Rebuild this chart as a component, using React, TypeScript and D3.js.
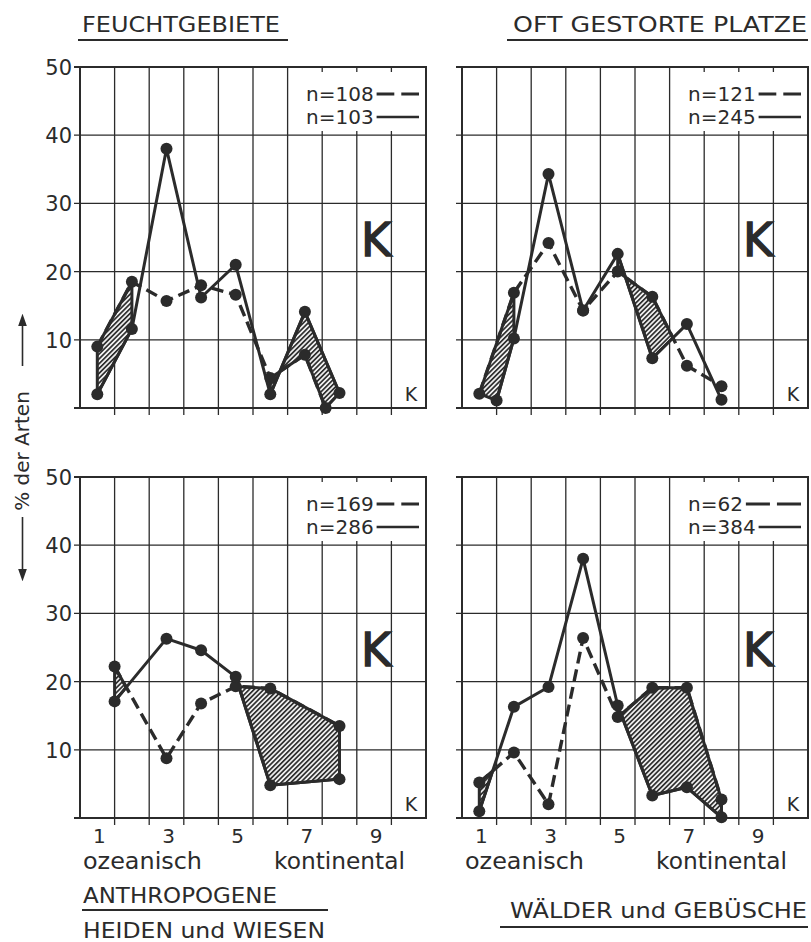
import React from 'react';
import * as d3 from 'd3';

// ---------- data ----------
const kTickLabels = [1, 3, 5, 7, 9];
const yTickValues = [10, 20, 30, 40, 50];
const gridValues = [0, 10, 20, 30, 40, 50];

// FEUCHTGEBIETE
const feuchtDashedK = [1, 2, 3, 4, 5, 6, 7, 7.6];
const feuchtDashedV = [9, 18.5, 15.7, 18, 16.6, 4.4, 7.8, 0];
const feuchtSolidK = [1, 2, 3, 4, 5, 6, 7, 8];
const feuchtSolidV = [2, 11.6, 38, 16.2, 21, 2, 14.1, 2.2];
const feuchtHatch = [[1, 2], [6, 8]];
const feuchtN = ['n=108', 'n=103'];

// OFT GESTORTE PLATZE
const gestoertDashedK = [1, 2, 3, 4, 5, 6, 7, 8];
const gestoertDashedV = [2.1, 16.9, 24.2, 14.3, 20, 16.3, 6.2, 3.2];
const gestoertSolidK = [1.5, 2, 3, 4, 5, 6, 7, 8];
const gestoertSolidV = [1.1, 10.2, 34.3, 14.3, 22.6, 7.3, 12.3, 1.2];
const gestoertHatch = [[1, 2], [5, 6.6]];
const gestoertN = ['n=121', 'n=245'];

// ANTHROPOGENE HEIDEN und WIESEN
const heidenDashedK = [1.5, 3, 4, 5, 6, 8];
const heidenDashedV = [22.2, 8.75, 16.8, 19.3, 19, 13.5];
const heidenSolidK = [1.5, 3, 4, 5, 6, 8];
const heidenSolidV = [17.1, 26.3, 24.6, 20.7, 4.8, 5.7];
const heidenHatch = [[1.5, 1.84], [5, 8]];
const heidenN = ['n=169', 'n=286'];

// WÄLDER und GEBÜSCHE
const waelderDashedK = [1, 2, 3, 4, 5, 6, 7, 8];
const waelderDashedV = [5.2, 9.6, 2.0, 26.4, 14.8, 19.1, 19.1, 2.7];
const waelderSolidK = [1, 2, 3, 4, 5, 6, 7, 8];
const waelderSolidV = [1.0, 16.3, 19.2, 38, 16.5, 3.3, 4.5, 0.1];
const waelderHatch = [[1, 1.385], [5, 8]];
const waelderN = ['n=62', 'n=384'];

// ---------- style ----------
const FONT = "'DejaVu Sans', sans-serif";
const INK = '#2b2b2b';
const W = 346;
const H = 341;

type Pt = [number, number];

function interp(ks: number[], vs: number[], k: number): Pt {
  const n = ks.length;
  if (k <= ks[0]) return [ks[0], vs[0]];
  if (k >= ks[n - 1]) return [ks[n - 1], vs[n - 1]];
  for (let i = 0; i < n - 1; i++) {
    if (k >= ks[i] && k <= ks[i + 1]) {
      const t = (k - ks[i]) / (ks[i + 1] - ks[i]);
      return [k, vs[i] + t * (vs[i + 1] - vs[i])];
    }
  }
  return [ks[n - 1], vs[n - 1]];
}

function segment(ks: number[], vs: number[], a: number, b: number): Pt[] {
  const pts: Pt[] = [interp(ks, vs, a)];
  ks.forEach((k, i) => {
    if (k > a && k < b) pts.push([k, vs[i]]);
  });
  pts.push(interp(ks, vs, b));
  return pts;
}

const charW: Record<string, number> = { n: 0.634, '=': 0.838 };
function textWidth(s: string, size: number) {
  let w = 0;
  for (const c of s) w += (charW[c] ?? 0.636) * size;
  return w;
}

type PanelProps = {
  x0: number;
  y0: number;
  dk: number[];
  dv: number[];
  sk: number[];
  sv: number[];
  hatch: number[][];
  legend: string[];
  yLabels: boolean;
  xLabels: boolean;
};

function Panel({ x0, y0, dk, dv, sk, sv, hatch, legend, yLabels, xLabels }: PanelProps) {
  const x = d3.scaleLinear().domain([0.5, 10.5]).range([x0, x0 + W]);
  const y = d3.scaleLinear().domain([0, 50]).range([y0 + H, y0]);
  const line = d3
    .line<Pt>()
    .x((d) => x(d[0]))
    .y((d) => y(d[1]));
  const dashedPts: Pt[] = dk.map((k, i) => [k, dv[i]]);
  const solidPts: Pt[] = sk.map((k, i) => [k, sv[i]]);
  const colEdges = d3.range(0, 11).map((i) => 0.5 + i);

  const legendX = x0 + 226;
  const legendEnd = x0 + 339;

  return (
    <g>
      {/* grid: vertical */}
      {colEdges.map((e, i) => {
        const border = i === 0 || i === 10;
        return (
          <line
            key={'v' + i}
            x1={x(e)}
            x2={x(e)}
            y1={y0}
            y2={y0 + H + (border ? 0 : 7)}
            stroke={INK}
            strokeWidth={border ? 2 : 1.3}
          />
        );
      })}
      {/* grid: horizontal */}
      {gridValues.map((v) => {
        const border = v === 0 || v === 50;
        return (
          <line
            key={'h' + v}
            x1={x0 - 6}
            x2={x0 + W + (border ? 1 : 0)}
            y1={y(v)}
            y2={y(v)}
            stroke={INK}
            strokeWidth={border ? 2 : 1.3}
          />
        );
      })}
      {/* legend background */}
      <rect x={x0 + 216} y={y0 + 5} width={W - 217} height={59} fill="#ffffff" />
      {/* hatched areas */}
      {hatch.map(([a, b], i) => {
        const poly = [...segment(sk, sv, a, b), ...segment(dk, dv, a, b).reverse()];
        return (
          <path
            key={'hatch' + i}
            d={line(poly) + 'Z'}
            fill="url(#hatch)"
            stroke={INK}
            strokeWidth={3}
            strokeLinejoin="round"
          />
        );
      })}
      {/* lines */}
      <path d={line(dashedPts) || ''} fill="none" stroke={INK} strokeWidth={3.4} strokeDasharray="12 6" />
      <path d={line(solidPts) || ''} fill="none" stroke={INK} strokeWidth={3} strokeLinejoin="round" />
      {/* points */}
      {dashedPts.map((p, i) => (
        <circle key={'dp' + i} cx={x(p[0])} cy={y(p[1])} r={6} fill={INK} />
      ))}
      {solidPts.map((p, i) => (
        <circle key={'sp' + i} cx={x(p[0])} cy={y(p[1])} r={6} fill={INK} />
      ))}
      {/* legend */}
      {legend.map((s, i) => {
        const cy = y0 + 27 + i * 23;
        const tw = textWidth(s, 20);
        const x1 = legendX + tw + 3;
        const len = legendEnd - x1;
        return (
          <g key={'leg' + i}>
            <text x={legendX} y={cy + 7} fontSize={20} fontFamily={FONT} fill={INK}>
              {s}
            </text>
            <line
              x1={x1}
              x2={legendEnd}
              y1={cy}
              y2={cy}
              stroke={INK}
              strokeWidth={i === 0 ? 3 : 2.6}
              strokeDasharray={i === 0 ? `${(len - 7) / 2} 7` : undefined}
            />
          </g>
        );
      })}
      {/* K labels */}
      <text
        x={x0 + 296}
        y={y0 + 189}
        fontSize={46}
        fontFamily={FONT}
        fill={INK}
        stroke={INK}
        strokeWidth={1.4}
        textAnchor="middle"
      >
        K
      </text>
      <text x={x0 + 331} y={y0 + 334} fontSize={19} fontFamily={FONT} fill={INK} textAnchor="middle">
        K
      </text>
      {/* y labels */}
      {yLabels &&
        yTickValues.map((v) => (
          <text
            key={'yl' + v}
            x={x0 - 8}
            y={y(v) + 8}
            fontSize={21}
            fontFamily={FONT}
            fill={INK}
            textAnchor="end"
          >
            {v}
          </text>
        ))}
      {/* x labels */}
      {xLabels &&
        kTickLabels.map((k) => (
          <text
            key={'xl' + k}
            x={x(k) + 2}
            y={y0 + H + 25}
            fontSize={20}
            fontFamily={FONT}
            fill={INK}
            textAnchor="middle"
          >
            {k}
          </text>
        ))}
      {xLabels && (
        <g>
          <text x={x0 + 3} y={y0 + H + 51} fontSize={23} fontFamily={FONT} fill={INK} textLength={119} lengthAdjust="spacingAndGlyphs">
            ozeanisch
          </text>
          <text x={x0 + 194} y={y0 + H + 51} fontSize={23} fontFamily={FONT} fill={INK} textLength={131} lengthAdjust="spacingAndGlyphs">
            kontinental
          </text>
        </g>
      )}
    </g>
  );
}

function Title({ x, y, w, text, ux1, ux2, uy }: { x: number; y: number; w: number; text: string; ux1: number; ux2: number; uy: number }) {
  return (
    <g>
      <text x={x} y={y} fontSize={21} fontFamily={FONT} fill={INK} textLength={w} lengthAdjust="spacingAndGlyphs">
        {text}
      </text>
      {uy > 0 && <line x1={ux1} x2={ux2} y1={uy} y2={uy} stroke={INK} strokeWidth={1.8} />}
    </g>
  );
}

export default function App() {
  return (
    <svg
      width={811}
      height={942}
      viewBox="0 0 811 942"
      style={{ position: 'absolute', left: 0, top: 0, display: 'block', background: '#ffffff' }}
    >
      <defs>
        <pattern id="hatch" patternUnits="userSpaceOnUse" width={3.4} height={3.4} patternTransform="rotate(45)">
          <rect width={3.4} height={3.4} fill="#eeeeee" />
          <line x1={0.8} y1={0} x2={0.8} y2={3.4} stroke="#2b2b2b" strokeWidth={1.7} />
        </pattern>
        <marker id="arrowHead" viewBox="0 0 10 10" refX={5} refY={5} markerWidth={8} markerHeight={10} orient="auto">
          <path d="M0,1.5 L10,5 L0,8.5 Z" fill={INK} />
        </marker>
      </defs>
      <rect x={0} y={0} width={811} height={942} fill="#ffffff" />

      <Title x={82} y={32} w={198} text="FEUCHTGEBIETE" ux1={78} ux2={288} uy={40} />
      <Title x={513} y={32} w={294} text="OFT GESTORTE PLATZE" ux1={507} ux2={808} uy={40} />

      <Panel x0={80} y0={67} dk={feuchtDashedK} dv={feuchtDashedV} sk={feuchtSolidK} sv={feuchtSolidV} hatch={feuchtHatch} legend={feuchtN} yLabels xLabels={false} />
      <Panel x0={462} y0={67} dk={gestoertDashedK} dv={gestoertDashedV} sk={gestoertSolidK} sv={gestoertSolidV} hatch={gestoertHatch} legend={gestoertN} yLabels={false} xLabels={false} />
      <Panel x0={80} y0={477} dk={heidenDashedK} dv={heidenDashedV} sk={heidenSolidK} sv={heidenSolidV} hatch={heidenHatch} legend={heidenN} yLabels xLabels />
      <Panel x0={462} y0={477} dk={waelderDashedK} dv={waelderDashedV} sk={waelderSolidK} sv={waelderSolidV} hatch={waelderHatch} legend={waelderN} yLabels={false} xLabels />

      <Title x={83} y={903} w={194} text="ANTHROPOGENE" ux1={82} ux2={328} uy={910} />
      <Title x={83} y={938} w={242} text="HEIDEN und WIESEN" ux1={0} ux2={0} uy={0} />
      <Title x={510} y={918} w={297} text="WÄLDER und GEBÜSCHE" ux1={500} ux2={808} uy={927} />

      {/* y-axis label with arrows */}
      <text
        transform="translate(29,451) rotate(-90)"
        fontSize={20}
        fontFamily={FONT}
        fill={INK}
        textAnchor="middle"
      >
        % der Arten
      </text>
      <line x1={22.5} x2={22.5} y1={366} y2={320} stroke={INK} strokeWidth={1.6} markerEnd="url(#arrowHead)" />
      <line x1={22.5} x2={22.5} y1={517} y2={575} stroke={INK} strokeWidth={1.6} markerEnd="url(#arrowHead)" />
    </svg>
  );
}
